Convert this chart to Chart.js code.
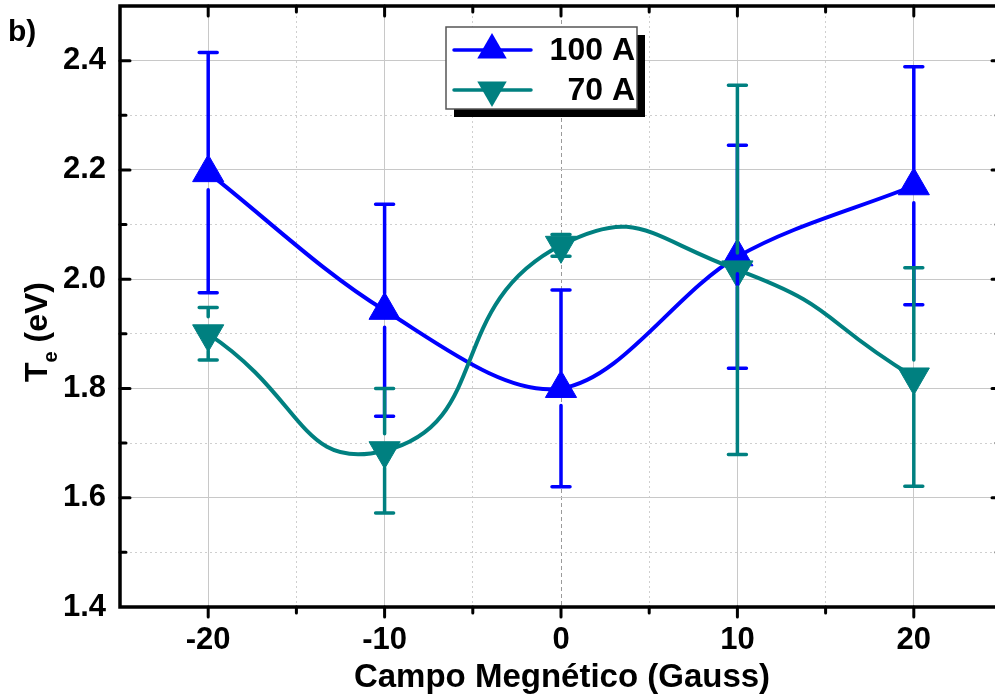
<!DOCTYPE html>
<html>
<head>
<meta charset="utf-8">
<script src="https://cdn.jsdelivr.net/npm/chart.js@4.4.1/dist/chart.umd.min.js"></script>
<style>
  html, body { margin: 0; padding: 0; background: #fff; overflow: hidden; }
  #wrap { width: 995px; height: 698px; overflow: hidden; }
</style>
</head>
<body>
<div id="wrap"><canvas id="teChart" width="1010" height="698"></canvas></div>
<script>
// magnetic field (Gauss) and electron temperature (eV) for both arc currents
const campo = [-20, -10, 0, 10, 20];
const te100 = [2.195, 1.943, 1.80, 2.041, 2.171];
const err100 = [0.220, 0.194, 0.180, 0.204, 0.218];
const te70 = [1.900, 1.686, 2.062, 2.017, 1.821];
const err70 = [0.048, 0.114, 0.020, 0.338, 0.200];
const seriesLabels = ['100 A', '70 A'];

const BLUE = '#0000ff';
const TEAL = '#008080';
const FONT = '"Liberation Sans", Arial, sans-serif';

const toPoints = (xs, ys) => xs.map((v, i) => ({ x: v, y: ys[i] }));

// vertical error bars, with a gap left around each marker
const errorBars = {
  id: 'errorBars',
  afterDatasetsDraw(chart) {
    const { ctx, scales: { x, y } } = chart;
    ctx.save();
    ctx.lineWidth = 3.5;
    ctx.lineCap = 'round';
    chart.data.datasets.forEach(ds => {
      ctx.strokeStyle = ds.borderColor;
      ds.data.forEach((p, i) => {
        const e = ds.errors[i];
        const px = x.getPixelForValue(p.x);
        const py = y.getPixelForValue(p.y);
        const top = y.getPixelForValue(p.y + e);
        const bot = y.getPixelForValue(p.y - e);
        const gap = 17;
        ctx.beginPath();
        if (top < py - gap) { ctx.moveTo(px, top); ctx.lineTo(px, py - gap); }
        if (bot > py + gap) { ctx.moveTo(px, py + gap); ctx.lineTo(px, bot); }
        ctx.moveTo(px - 9, top); ctx.lineTo(px + 9, top);
        ctx.moveTo(px - 9, bot); ctx.lineTo(px + 9, bot);
        ctx.stroke();
      });
    });
    ctx.restore();
  }
};

function triangle(ctx, cx, cy, r, down) {
  const s = down ? -1 : 1;
  ctx.beginPath();
  ctx.moveTo(cx, cy - s * r);
  ctx.lineTo(cx + r * 0.866, cy + s * r * 0.5);
  ctx.lineTo(cx - r * 0.866, cy + s * r * 0.5);
  ctx.closePath();
  ctx.fill();
}

// box frame, inward/outward ticks, titles and the shadowed legend
const frame = {
  id: 'frame',
  afterDraw(chart) {
    const { ctx, chartArea: a, scales: { x, y } } = chart;
    ctx.save();
    ctx.strokeStyle = '#000';
    ctx.lineWidth = 3.5;
    ctx.strokeRect(a.left, a.top, a.right - a.left, a.bottom - a.top);

    ctx.lineWidth = 3;
    ctx.lineCap = 'round';
    ctx.beginPath();
    x.ticks.forEach(t => {
      if (t.value <= x.min || t.value >= x.max) return;
      const px = x.getPixelForValue(t.value);
      const len = t.value % 10 === 0 ? 10 : 6;
      ctx.moveTo(px, a.bottom); ctx.lineTo(px, a.bottom + len);
      ctx.moveTo(px, a.top); ctx.lineTo(px, a.top + len);
    });
    y.ticks.forEach(t => {
      if (t.value <= y.min + 1e-9 || t.value >= y.max - 1e-9) return;
      const py = y.getPixelForValue(t.value);
      const len = Math.round(t.value * 10) % 2 === 0 ? 10 : 6;
      ctx.moveTo(a.left, py); ctx.lineTo(a.left + len, py);
      ctx.moveTo(a.right, py); ctx.lineTo(a.right - len, py);
    });
    ctx.stroke();

    // titles
    ctx.fillStyle = '#000';
    ctx.textBaseline = 'alphabetic';
    ctx.font = 'bold 33px ' + FONT;
    ctx.textAlign = 'center';
    ctx.fillText('Campo Megnético (Gauss)', 562, 687);
    ctx.textAlign = 'left';
    ctx.font = 'bold 30px ' + FONT;
    ctx.fillText('b)', 8, 41);

    ctx.save();
    ctx.translate(47, 382);
    ctx.rotate(-Math.PI / 2);
    ctx.font = 'bold 32px ' + FONT;
    ctx.fillText('T', 0, 0);
    let w = ctx.measureText('T').width;
    ctx.font = 'bold 20px ' + FONT;
    ctx.fillText('e', w, 10);
    w += ctx.measureText('e').width;
    ctx.font = 'bold 32px ' + FONT;
    ctx.fillText(' (eV)', w, 0);
    ctx.restore();

    // legend
    const lx = 446, ly = 27, lw = 191, lh = 82;
    ctx.fillStyle = '#000';
    ctx.fillRect(lx + 8, ly + 8, lw, lh);
    ctx.fillStyle = '#fff';
    ctx.fillRect(lx, ly, lw, lh);
    ctx.strokeStyle = '#555';
    ctx.lineWidth = 1.5;
    ctx.strokeRect(lx, ly, lw, lh);
    const rows = [
      { color: BLUE, down: false, cy: 50 },
      { color: TEAL, down: true, cy: 90 }
    ];
    ctx.font = 'bold 32px ' + FONT;
    ctx.textAlign = 'right';
    ctx.textBaseline = 'middle';
    rows.forEach((r, i) => {
      ctx.strokeStyle = r.color;
      ctx.fillStyle = r.color;
      ctx.lineWidth = 3.5;
      ctx.beginPath();
      ctx.moveTo(454, r.cy); ctx.lineTo(531, r.cy);
      ctx.stroke();
      triangle(ctx, 492, r.cy, 17, r.down);
      ctx.fillStyle = '#000';
      ctx.fillText(seriesLabels[i], 635, r.cy + 1);
    });
    ctx.restore();
  }
};

const isMajorX = v => v % 10 === 0;
const isMajorY = v => Math.round(v * 10) % 2 === 0;

new Chart(document.getElementById('teChart'), {
  type: 'line',
  data: {
    datasets: [
      {
        label: seriesLabels[0],
        data: toPoints(campo, te100),
        errors: err100,
        borderColor: BLUE,
        backgroundColor: BLUE,
        borderWidth: 4,
        tension: 0.33,
        pointStyle: 'triangle',
        pointRadius: 18,
        pointBorderWidth: 1,
        order: 2
      },
      {
        label: seriesLabels[1],
        data: toPoints(campo, te70),
        errors: err70,
        borderColor: TEAL,
        backgroundColor: TEAL,
        borderWidth: 4,
        tension: 0.55,
        pointStyle: 'triangle',
        pointRotation: 180,
        pointRadius: 18,
        pointBorderWidth: 1,
        order: 1
      }
    ]
  },
  options: {
    responsive: false,
    animation: false,
    layout: { autoPadding: false, padding: { top: 6, right: 8, left: 0, bottom: 0 } },
    plugins: {
      legend: { display: false },
      tooltip: { enabled: false }
    },
    scales: {
      x: {
        type: 'linear',
        min: -25,
        max: 25,
        afterFit: s => { s.height = 91; s.paddingLeft = 0; s.paddingRight = 0; },
        ticks: {
          stepSize: 5,
          autoSkip: false,
          maxRotation: 0,
          padding: 15,
          color: '#000',
          font: { family: FONT, size: 31, weight: 'bold' },
          callback: v => isMajorX(v) ? String(v) : ''
        },
        grid: {
          drawTicks: false,
          lineWidth: 1,
          color: c => c.tick.value === 0 ? '#9a9a9a' : (isMajorX(c.tick.value) ? '#c8c8c8' : '#cfcfcf')
        },
        border: {
          display: false,
          dash: c => c.tick.value === 0 ? [4, 3] : (isMajorX(c.tick.value) ? [] : [2, 3])
        }
      },
      y: {
        min: 1.4,
        max: 2.5,
        afterFit: s => { s.width = 120; s.paddingTop = 0; s.paddingBottom = 0; },
        ticks: {
          stepSize: 0.1,
          autoSkip: false,
          padding: 14,
          color: '#000',
          font: { family: FONT, size: 31, weight: 'bold' },
          callback: v => isMajorY(v) ? v.toFixed(1) : ''
        },
        grid: {
          drawTicks: false,
          lineWidth: 1,
          color: c => isMajorY(c.tick.value) ? '#c8c8c8' : '#cfcfcf'
        },
        border: {
          display: false,
          dash: c => isMajorY(c.tick.value) ? [] : [2, 3]
        }
      }
    }
  },
  plugins: [errorBars, frame]
});
</script>
</body>
</html>
